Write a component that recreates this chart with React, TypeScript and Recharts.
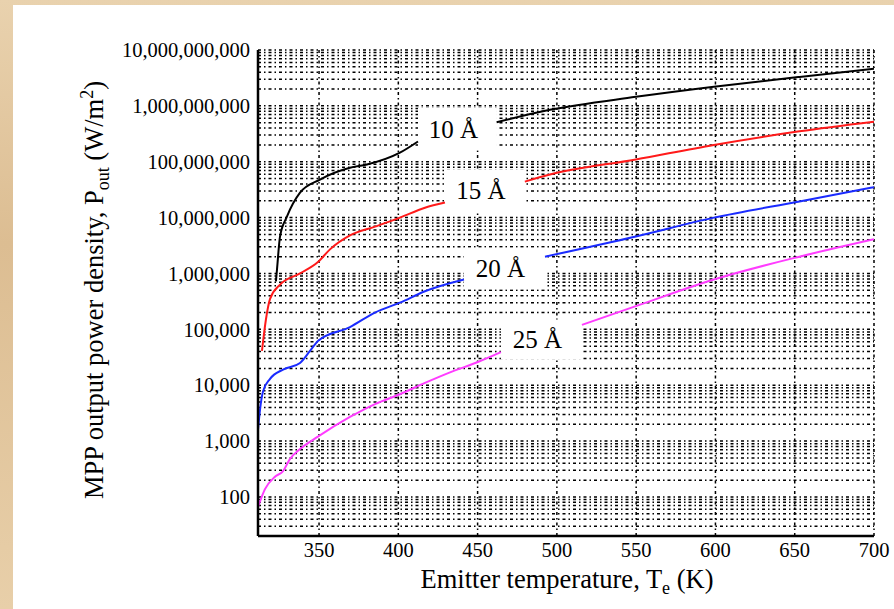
import { LineChart, Line, XAxis, YAxis, CartesianGrid, ReferenceArea } from 'recharts'

// emitter temperature (K) and MPP output power density (W/m^2)
const temps10 = [322.8, 323.5, 325.4, 329.8, 338, 350.6, 369.5, 380.2, 401, 412.4, 462, 495.6, 549.8, 599, 653, 700]
const power10 = [7.2e5, 1.2e6, 4.6e6, 1.05e7, 2.8e7, 4.8e7, 7.8e7, 8.9e7, 1.45e8, 2.3e8, 5.1e8, 8.5e8, 1.45e9, 2.2e9, 3.3e9, 4.6e9]

const temps15 = [314, 316.5, 319.1, 325.4, 338, 349.3, 356.9, 369.5, 385.3, 401, 416.8, 429.4, 479.8, 495.6, 549.8, 599, 653, 700]
const power15 = [4.1e4, 1.5e5, 3.5e5, 6.3e5, 1.0e6, 1.6e6, 2.7e6, 4.8e6, 6.9e6, 1.0e7, 1.5e7, 1.86e7, 4.4e7, 5.9e7, 1.1e8, 2.0e8, 3.5e8, 5.2e8]

const temps20 = [311.5, 312.8, 314.7, 319.1, 327.3, 338, 344.3, 349.3, 369.5, 385.3, 401, 416.8, 441.4, 492.5, 549.8, 599, 653, 700]
const power20 = [1.6e3, 3.7e3, 7.8e3, 1.3e4, 1.9e4, 2.5e4, 4.1e4, 6.2e4, 1.1e5, 2.0e5, 3.0e5, 4.8e5, 7.8e5, 2.0e6, 4.6e6, 1.0e7, 1.95e7, 3.5e7]

const temps25 = [311.5, 315.9, 322.2, 327.3, 331.7, 338, 349.3, 369.5, 385.3, 401, 416.8, 432.6, 450.2, 464.7, 515.8, 549.8, 599, 653, 700]
const power25 = [66, 138, 230, 290, 480, 720, 1.2e3, 2.7e3, 4.6e3, 6.9e3, 1.1e4, 1.7e4, 2.6e4, 3.9e4, 1.2e5, 2.6e5, 7.8e5, 2.0e6, 4.1e6]

const seriesNames = ['10 Å', '15 Å', '20 Å', '25 Å']
const seriesColors = ['#000000', '#ff1a1a', '#1a2bff', '#ff3cff']

// white label boxes: [t1, t2, p1, p2]
const labelBoxes = [
  [412.4, 462.2, 1.6e8, 9.2e8],
  [429.4, 479.8, 1.3e7, 7.2e7],
  [441.4, 492.5, 5.2e5, 2.9e6],
  [464.7, 515.8, 2.9e4, 1.5e5],
]

const xTicks = [350, 400, 450, 500, 550, 600, 650, 700]
const decades = [10, 100, 1000, 1e4, 1e5, 1e6, 1e7, 1e8, 1e9]
const minorSteps = [1, 2, 3, 4, 5, 6, 7, 8, 9]

const yTicks = decades
  .flatMap((d) => minorSteps.map((m) => m * d))
  .filter((v) => v >= 20)
  .concat([1e10])

const toRows = (ts: number[], ps: number[]) => ts.map((t, i) => ({ t, p: ps[i] as number | null }))
// break each curve where its label box sits
const splitAt = (rows: { t: number; p: number | null }[], box: number[]) => {
  const left = rows.filter((r) => r.t <= box[0])
  const right = rows.filter((r) => r.t >= box[1] - 0.3)
  return [...left, { t: (box[0] + box[1]) / 2, p: null }, ...right]
}

const series = [
  splitAt(toRows(temps10, power10), labelBoxes[0]),
  splitAt(toRows(temps15, power15), labelBoxes[1]),
  splitAt(toRows(temps20, power20), labelBoxes[2]),
  splitAt(toRows(temps25, power25), labelBoxes[3]),
]

const serif = '"Liberation Serif", "Times New Roman", serif'
const small = { fontSize: 18, position: 'relative' as const, verticalAlign: 'baseline' }

function YTick({ x, y, payload }: any) {
  const v = payload.value
  const lg = Math.log10(v)
  if (Math.abs(lg - Math.round(lg)) > 1e-6) return null
  return (
    <text x={x} y={y} dy="0.35em" textAnchor="end" fontFamily={serif} fontSize={20.5} fill="#000">
      {Math.round(v).toLocaleString('en-US')}
    </text>
  )
}

function XTick({ x, y, payload }: any) {
  return (
    <text x={x} y={y + 21} textAnchor="middle" fontFamily={serif} fontSize={20.5} fill="#000">
      {payload.value}
    </text>
  )
}

function BoxLabel({ viewBox, value }: any) {
  if (!viewBox) return null
  return (
    <text
      x={viewBox.x + viewBox.width / 2 - 4}
      y={viewBox.y + viewBox.height / 2}
      dy="0.35em"
      textAnchor="middle"
      fontFamily={serif}
      fontSize={25}
      fill="#000"
    >
      {value}
    </text>
  )
}

export default function App() {
  return (
    <div
      style={{
        position: 'absolute', left: 0, top: 0, width: 894, height: 609, overflow: 'hidden',
        background: 'linear-gradient(180deg, #e9d2ae 0%, #dcbd92 40%, #e8cfa9 100%)',
      }}
    >
      <div style={{ position: 'absolute', left: 13, top: 5, right: 0, bottom: 0, background: '#fff' }} />
      <div style={{ position: 'absolute', left: 0, top: 0 }}>
        <LineChart width={894} height={609} margin={{ top: 50, right: 20, left: 0, bottom: 0 }}>
          <CartesianGrid
            stroke="#000"
            strokeWidth={1.5}
            strokeDasharray="3 3 1.5 3"
            fill="none"
          />
          <XAxis
            type="number"
            dataKey="t"
            domain={[311.5, 700]}
            ticks={xTicks}
            allowDataOverflow
            height={73}
            tickSize={0}
            tickMargin={0}
            tickLine={false}
            axisLine={{ stroke: '#000', strokeWidth: 2.5 }}
            tick={<XTick />}
          />
          <YAxis
            type="number"
            scale="log"
            domain={[20, 1e10]}
            ticks={yTicks}
            allowDataOverflow
            interval={0}
            width={258}
            tickSize={0}
            tickMargin={8}
            tickLine={false}
            axisLine={{ stroke: '#000', strokeWidth: 2.5 }}
            tick={<YTick />}
          />
          {labelBoxes.map(([t1, t2, p1, p2], i) => (
            <ReferenceArea
              key={`box-${i}`}
              x1={t1}
              x2={t2}
              y1={p1}
              y2={p2}
              fill="#fff"
              fillOpacity={1}
              stroke="none"
              label={<BoxLabel value={seriesNames[i]} />}
            />
          ))}
          {series.map((rows, i) => (
            <Line
              key={seriesNames[i]}
              data={rows}
              dataKey="p"
              type="monotone"
              stroke={seriesColors[i]}
              strokeWidth={2}
              dot={false}
              isAnimationActive={false}
            />
          ))}
        </LineChart>
      </div>
      <div
        style={{
          position: 'absolute', left: 567, top: 566, transform: 'translateX(-50%)',
          fontFamily: serif, fontSize: 26.5, lineHeight: 1, color: '#000', whiteSpace: 'nowrap',
        }}
      >
        Emitter temperature, T<span style={{ ...small, top: 6 }}>e</span> (K)
      </div>
      <div
        style={{
          position: 'absolute', left: 94, top: 290, transform: 'translate(-50%, -50%) rotate(-90deg)',
          fontFamily: serif, fontSize: 26.5, lineHeight: 1, color: '#000', whiteSpace: 'nowrap',
        }}
      >
        MPP output power density, P<span style={{ ...small, top: 6 }}>out</span> (W/m<span style={{ ...small, top: -10 }}>2</span>)
      </div>
    </div>
  )
}
